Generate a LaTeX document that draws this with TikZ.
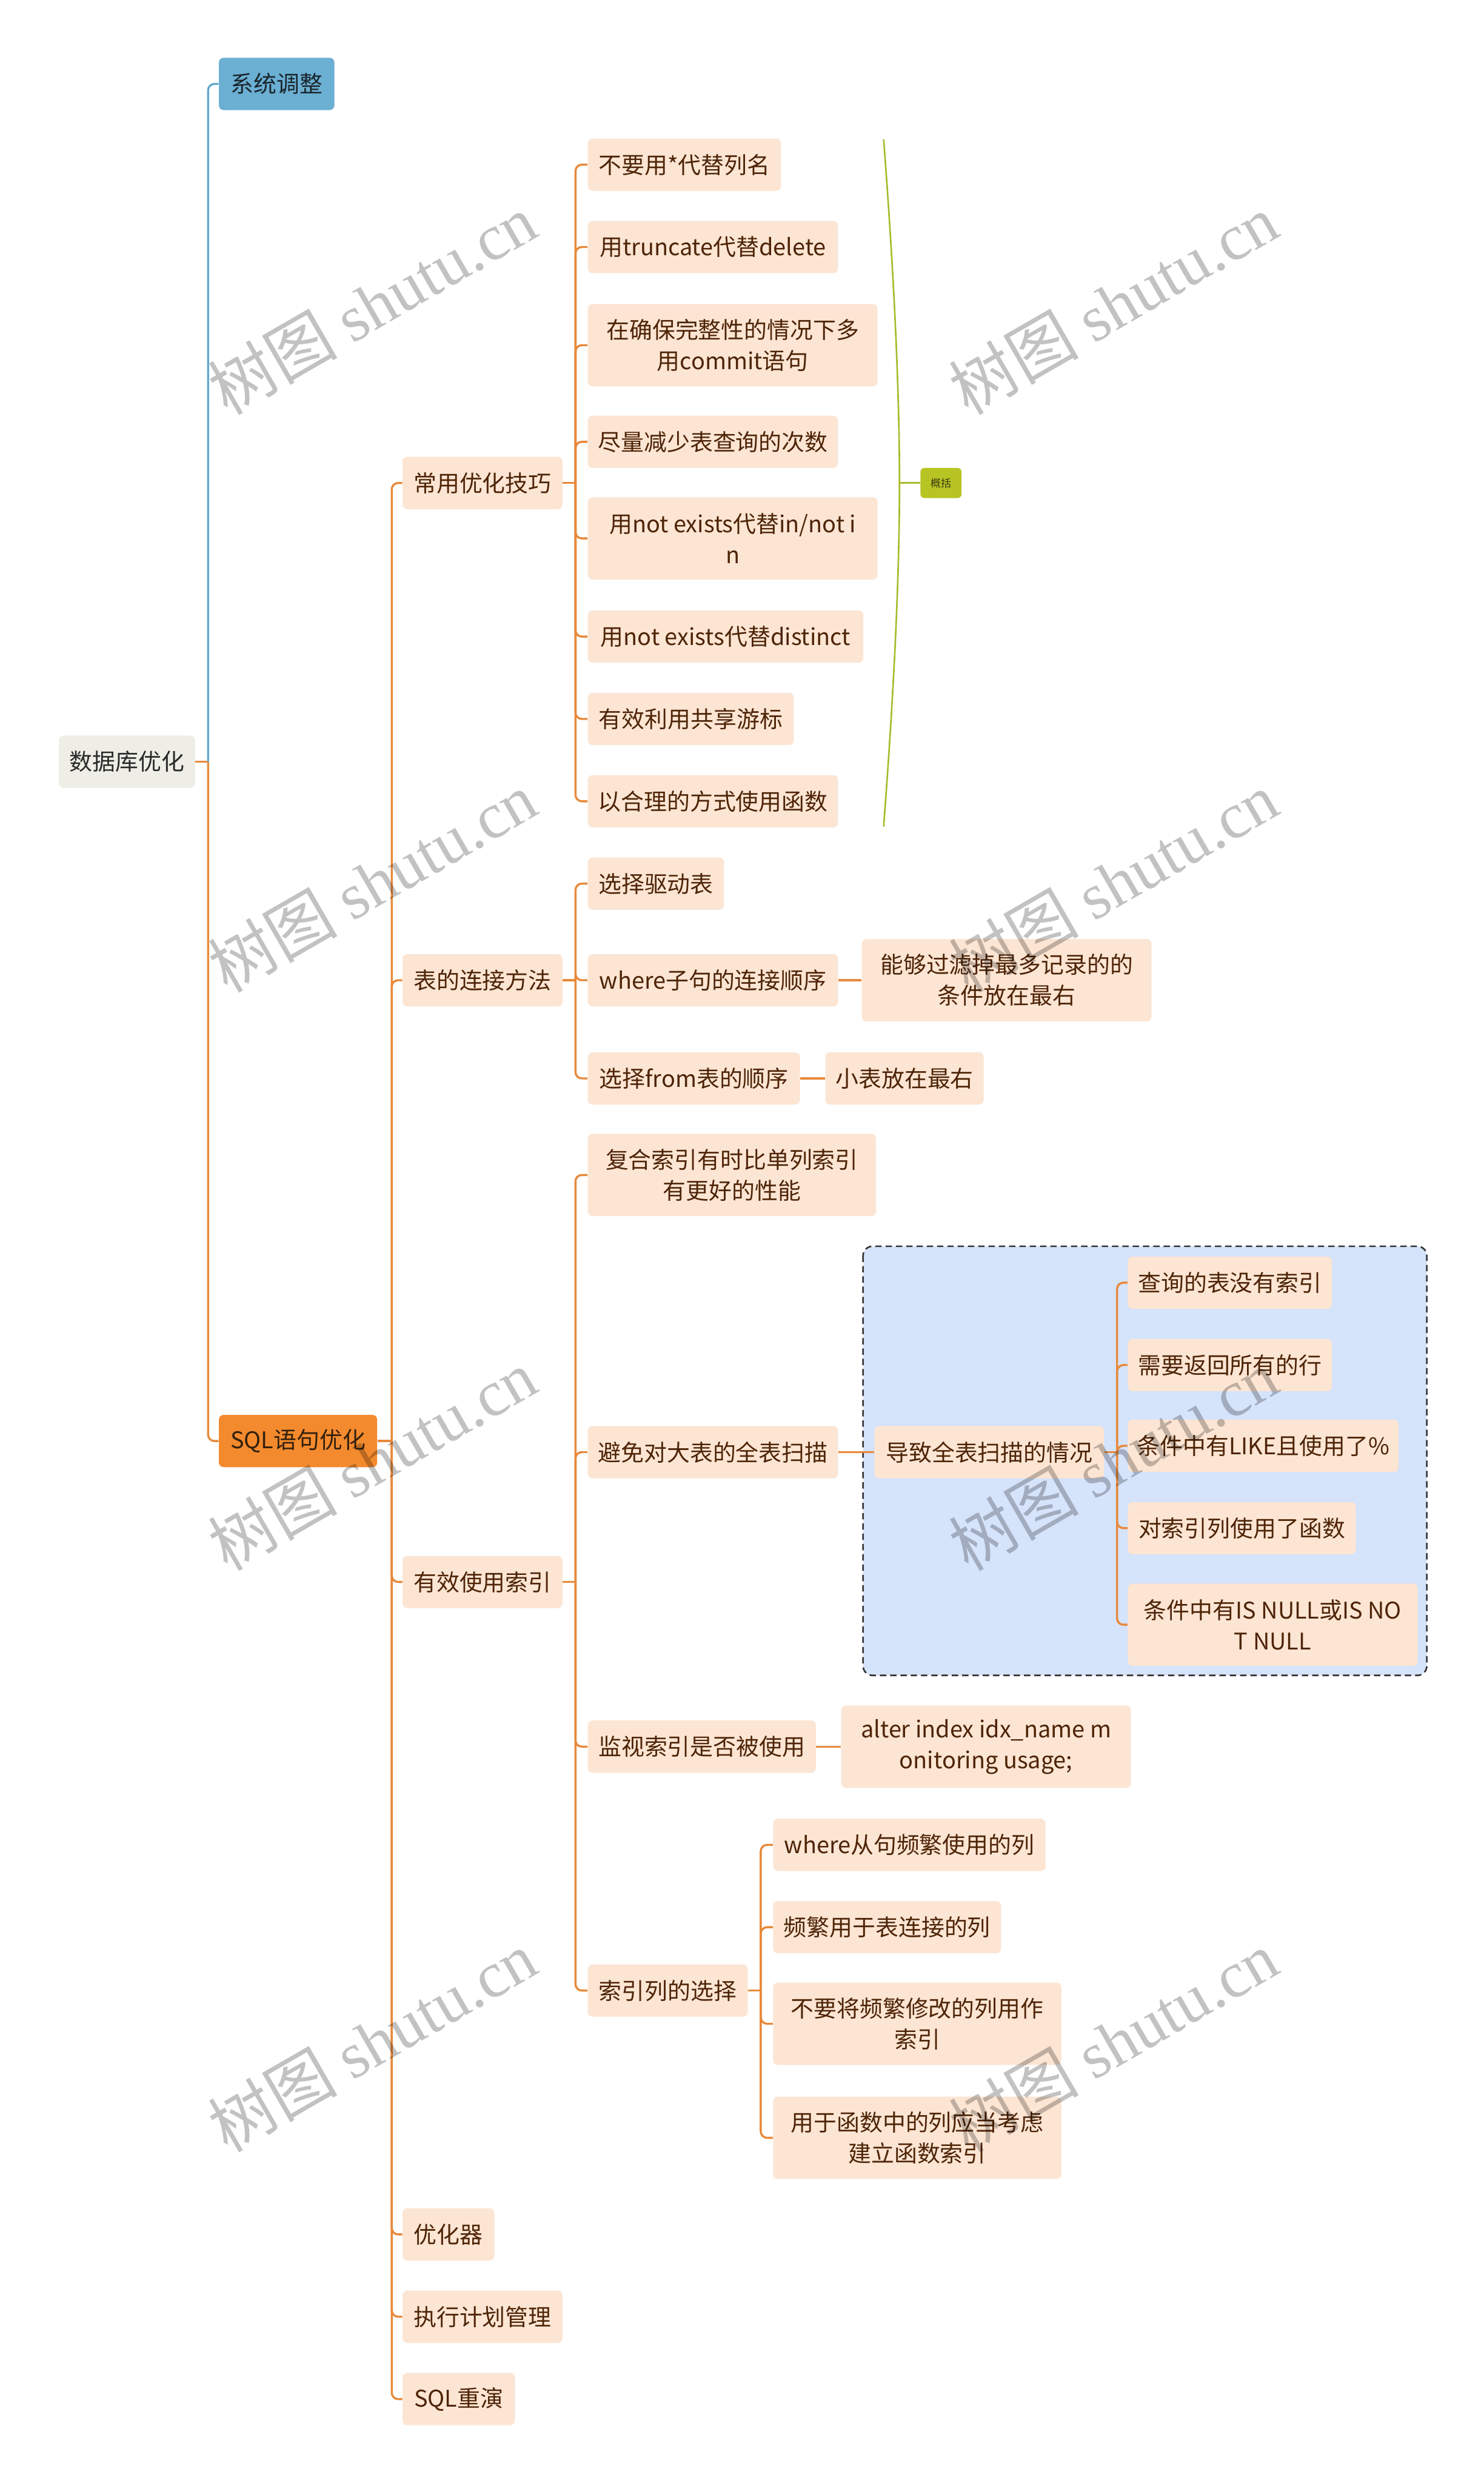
\documentclass[tikz,border=0pt]{standalone}
\usepackage{fontspec}
\setmainfont{Noto Sans CJK SC}
\newfontfamily\wmserif{Liberation Serif}
\newfontfamily\wmcjk{Noto Sans CJK SC}
\usetikzlibrary{backgrounds}
\definecolor{peach}{HTML}{FCE5D3}
\definecolor{txtbrown}{HTML}{4E2407}
\definecolor{lineor}{HTML}{E8893A}
\definecolor{lineblue}{HTML}{62A9CC}
\definecolor{sysblue}{HTML}{6BAFD3}
\definecolor{systxt}{HTML}{1A252C}
\definecolor{sqlor}{HTML}{F48A2E}
\definecolor{sqltxt}{HTML}{33200C}
\definecolor{rootfill}{HTML}{EEEEE6}
\definecolor{roottxt}{HTML}{2A2A2A}
\definecolor{boxblue}{HTML}{D5E3FB}
\definecolor{boxline}{HTML}{333333}
\definecolor{sumgreen}{HTML}{A8BB2A}
\definecolor{sumfill}{HTML}{B7C424}
\definecolor{sumtxt}{HTML}{3A3A10}
\tikzset{
  base/.style={rounded corners=3pt, inner sep=0pt, align=center,
    font=\fontsize{14.5}{19.5}\selectfont, anchor=west, minimum height=33pt},
  leaf/.style={base, fill=peach, text=txtbrown},
  tall/.style={minimum height=52pt},
  conn/.style={draw=lineor, line width=1.3pt, rounded corners=4pt},
  bconn/.style={draw=lineblue, line width=1.3pt, rounded corners=4pt},
  wmark/.style={rotate=30, text=black, opacity=0.24,
    font=\fontsize{41}{44}\selectfont}
}
\begin{document}
\begin{tikzpicture}[x=1pt,y=-1pt]
\useasboundingbox (0,0) rectangle (937,1568);

% level 0/1
\node[base, fill=rootfill, text=roottxt, minimum width=86pt] (root) at (37,481) {数据库优化};
\node[base, fill=sysblue, text=systxt, minimum width=73pt] (sys) at (138,53) {系统调整};
\node[base, fill=sqlor, text=sqltxt, minimum width=100pt] (sql) at (138,910) {SQL语句优化};

% level 2
\node[leaf, minimum width=101pt] (c1) at (254,305) {常用优化技巧};
\node[leaf, minimum width=101pt] (c2) at (254,619) {表的连接方法};
\node[leaf, minimum width=101pt] (c3) at (254,999) {有效使用索引};
\node[leaf, minimum width=58pt] (c4) at (254,1411) {优化器};
\node[leaf, minimum width=101pt] (c5) at (254,1463) {执行计划管理};
\node[leaf, minimum width=71pt] (c6) at (254,1515) {SQL重演};

% children of c1
\node[leaf, minimum width=122pt] (a1) at (371,104) {不要用*代替列名};
\node[leaf, minimum width=158pt] (a2) at (371,156) {用truncate代替delete};
\node[leaf, tall, minimum width=183pt] (a3) at (371,218) {在确保完整性的情况下多\\用commit语句};
\node[leaf, minimum width=158pt] (a4) at (371,279) {尽量减少表查询的次数};
\node[leaf, tall, minimum width=183pt] (a5) at (371,340) {用not exists代替in/not i\\n};
\node[leaf, minimum width=174pt] (a6) at (371,402) {用not exists代替distinct};
\node[leaf, minimum width=130pt] (a7) at (371,454) {有效利用共享游标};
\node[leaf, minimum width=158pt] (a8) at (371,506) {以合理的方式使用函数};

% summary
\node[fill=sumfill, rounded corners=2.5pt, minimum width=26pt, minimum height=19pt,
  inner sep=0pt, font=\fontsize{6.5}{7}\selectfont, text=sumtxt, anchor=west] (sum) at (581,305) {概括};
\coordinate (st) at (558,88);
\coordinate (sm) at (568,305);
\coordinate (sb) at (558,522);
\draw[sumgreen, line width=1pt] (st) .. controls (565,180) and (568,250) .. (sm)
  .. controls (568,360) and (565,430) .. (sb);
\draw[sumgreen, line width=1pt] (sm) -- (sum.west);

% children of c2
\node[leaf, minimum width=86pt] (b1) at (371,558) {选择驱动表};
\node[leaf, minimum width=158pt] (b2) at (371,619) {where子句的连接顺序};
\node[leaf, tall, minimum width=183pt] (b2a) at (544,619) {能够过滤掉最多记录的的\\条件放在最右};
\node[leaf, minimum width=134pt] (b3) at (371,681) {选择from表的顺序};
\node[leaf, minimum width=100pt] (b3a) at (521,681) {小表放在最右};

% children of c3
\node[leaf, tall, minimum width=182pt] (d1) at (371,742) {复合索引有时比单列索引\\有更好的性能};
\node[leaf, minimum width=158pt] (d2) at (371,917) {避免对大表的全表扫描};
\node[leaf, minimum width=145pt] (d2a) at (552,917) {导致全表扫描的情况};
\node[leaf, minimum width=129pt] (e1) at (712,810) {查询的表没有索引};
\node[leaf, minimum width=129pt] (e2) at (712,862) {需要返回所有的行};
\node[leaf, minimum width=171pt] (e3) at (712,913) {条件中有LIKE且使用了\%};
\node[leaf, minimum width=144pt] (e4) at (712,965) {对索引列使用了函数};
\node[leaf, tall, minimum width=183pt] (e5) at (712,1026) {条件中有IS NULL或IS NO\\T NULL};
\node[leaf, minimum width=144pt] (d3) at (371,1103) {监视索引是否被使用};
\node[leaf, tall, minimum width=183pt] (d3a) at (531,1103) {alter index idx\_name m\\onitoring usage;};
\node[leaf, minimum width=101pt] (d4) at (371,1257) {索引列的选择};
\node[leaf, minimum width=172pt] (f1) at (488,1165) {where从句频繁使用的列};
\node[leaf, minimum width=144pt] (f2) at (488,1217) {频繁用于表连接的列};
\node[leaf, tall, minimum width=182pt] (f3) at (488,1278) {不要将频繁修改的列用作\\索引};
\node[leaf, tall, minimum width=182pt] (f4) at (488,1350) {用于函数中的列应当考虑\\建立函数索引};

% background: white page, dashed group box, connectors
\begin{scope}[on background layer]
\fill[white] (0,0) rectangle (937,1568);
\draw[fill=boxblue, draw=boxline, dash pattern=on 4pt off 2.5pt, line width=1pt, rounded corners=6pt]
  (545,787) rectangle (901,1058);

\draw[conn] (root.east) -- ++(8,0) coordinate (j0);
\draw[bconn] (j0) |- (sys.west);
\draw[conn] (j0) |- (sql.west);

\draw[conn] (sql.east) -- ++(9,0) coordinate (j1);
\foreach \n in {c1,c2,c3,c4,c5,c6} \draw[conn] (j1) |- (\n.west);

\draw[conn] (c1.east) -- ++(8,0) coordinate (j2);
\foreach \n in {a1,a2,a3,a4,a5,a6,a7,a8} \draw[conn] (j2) |- (\n.west);

\draw[conn] (c2.east) -- ++(8,0) coordinate (j3);
\foreach \n in {b1,b2,b3} \draw[conn] (j3) |- (\n.west);
\draw[conn] (b2.east) -- (b2a.west);
\draw[conn] (b3.east) -- (b3a.west);

\draw[conn] (c3.east) -- ++(8,0) coordinate (j4);
\foreach \n in {d1,d2,d3,d4} \draw[conn] (j4) |- (\n.west);
\draw[conn] (d2.east) -- (d2a.west);
\draw[conn] (d2a.east) -- ++(8,0) coordinate (j5);
\foreach \n in {e1,e2,e3,e4,e5} \draw[conn] (j5) |- (\n.west);
\draw[conn] (d3.east) -- (d3a.west);
\draw[conn] (d4.east) -- ++(8,0) coordinate (j6);
\foreach \n in {f1,f2,f3,f4} \draw[conn] (j6) |- (\n.west);
\end{scope}

% watermarks
\foreach \wx in {235,703} {
  \foreach \wy in {192,557,922,1289} {
    \node[wmark] (wm-\wx-\wy) at (\wx,\wy) {\wmcjk 树图 \wmserif shutu.cn};
  }
}
\end{tikzpicture}
\end{document}
